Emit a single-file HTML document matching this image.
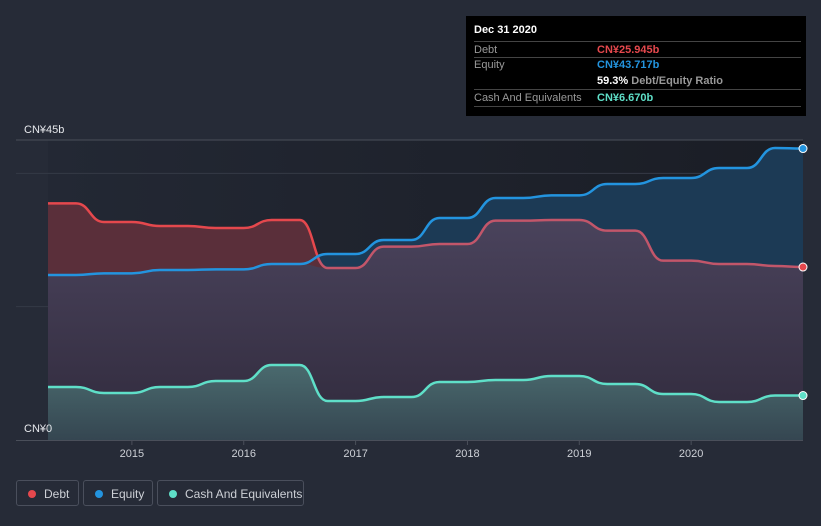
<!DOCTYPE html>
<html><head><meta charset="utf-8"><style>
body{margin:0;background:#262b37;width:821px;height:526px;overflow:hidden;font-family:"Liberation Sans",sans-serif;}
.tt{position:absolute;left:466px;top:16px;width:340px;height:100px;background:#000;color:#fff;font-size:11px;}
.tt .r{position:absolute;left:8px;width:327px;border-bottom:1px solid #444;height:16px;}
.tt .l{position:absolute;left:0;color:#999;top:2px}
.tt .v{position:absolute;left:123px;top:2px;font-weight:bold}
.leg{position:absolute;top:480px;height:26px;border:1px solid #4a4f5c;border-radius:3px;color:#cdd0d6;font-size:12px;line-height:26px;box-sizing:border-box}
.leg i{position:absolute;left:11px;top:9px;width:8px;height:8px;border-radius:50%}
.leg span{position:absolute;left:27px}
</style></head><body>
<svg width="821" height="526" style="position:absolute;left:0;top:0">
<defs>
<linearGradient id="bg" x1="0" x2="1"><stop offset="0" stop-color="#232834"/><stop offset="1" stop-color="#1a1d25"/></linearGradient>
<linearGradient id="pg" x1="0" y1="0" x2="0" y2="1"><stop offset="0" stop-color="#4a435c"/><stop offset="1" stop-color="#302a3c"/></linearGradient>
<linearGradient id="cg" x1="0" y1="0" x2="0" y2="1"><stop offset="0" stop-color="#4a6a6e"/><stop offset="1" stop-color="#354651"/></linearGradient>
<clipPath id="leftc"><rect x="0" y="0" width="318" height="526"/></clipPath>
<clipPath id="rightc"><rect x="318" y="0" width="600" height="526"/></clipPath>
</defs>
<rect x="48" y="140" width="755" height="300" fill="url(#bg)"/>
<g id="grid"></g>
<g id="series"></g>
<g id="axis"></g>
</svg>
<div class="tt">
<div style="position:absolute;left:8px;top:8px;font-weight:bold;font-size:11px">Dec 31 2020</div>
<div class="r" style="top:25px;border-top:1px solid #444;height:15px"><span class="l">Debt</span><span class="v" style="color:#e5484d">CN¥25.945b</span></div>
<div class="r" style="top:41px;height:32px"><span class="l">Equity</span><span class="v" style="color:#2394df">CN¥43.717b</span><span class="v" style="top:18px;color:#fff">59.3% <b style="color:#999">Debt/Equity Ratio</b></span></div>
<div class="r" style="top:74px"><span class="l">Cash And Equivalents</span><span class="v" style="color:#5fdfc8">CN¥6.670b</span></div>
</div>
<div class="leg" style="left:16px;width:63px"><i style="background:#e5484d"></i><span>Debt</span></div>
<div class="leg" style="left:83px;width:70px"><i style="background:#2394df"></i><span>Equity</span></div>
<div class="leg" style="left:157px;width:147px"><i style="background:#5fdfc8"></i><span>Cash And Equivalents</span></div>
<script>
const dates=[2014.25,2014.5,2014.75,2015,2015.25,2015.5,2015.75,2016,2016.25,2016.5,2016.75,2017,2017.25,2017.5,2017.75,2018,2018.25,2018.5,2018.75,2019,2019.25,2019.5,2019.75,2020,2020.25,2020.5,2020.75,2021];
const debt=[35.5,35.5,32.7,32.7,32.1,32.1,31.8,31.8,33,33,25.8,25.8,29,29,29.4,29.4,32.9,32.9,33,33,31.4,31.4,26.9,26.9,26.4,26.4,26.1,25.945];
const equity=[24.75,24.75,25,25,25.5,25.5,25.6,25.6,26.4,26.4,27.9,27.9,30,30,33.3,33.3,36.3,36.3,36.7,36.7,38.4,38.4,39.3,39.3,40.8,40.8,43.8,43.717];
const cash=[7.95,7.95,7.05,7.05,7.95,7.95,8.85,8.85,11.25,11.25,5.85,5.85,6.45,6.45,8.7,8.7,9,9,9.6,9.6,8.4,8.4,6.9,6.9,5.7,5.7,6.67,6.67];
const yearTicks=[2015,2016,2017,2018,2019,2020];
const gridVals=[45,40,20];
const NS='http://www.w3.org/2000/svg';
const X=d=>48+(d-2014.25)*(755/6.75);
const Y=v=>440-v*300/45;
function mk(t,a,p){const e=document.createElementNS(NS,t);for(const k in a)e.setAttribute(k,a[k]);p.appendChild(e);return e;}
function line(vals){let d='M'+X(dates[0])+','+Y(vals[0]);for(let i=1;i<vals.length;i++){const x0=X(dates[i-1]),x1=X(dates[i]),m=(x0+x1)/2;d+=` C${m},${Y(vals[i-1])} ${m},${Y(vals[i])} ${x1},${Y(vals[i])}`;}return d;}
function area(vals){return line(vals)+` L${X(dates[dates.length-1])},440 L${X(dates[0])},440 Z`;}
const g=document.getElementById('grid'),s=document.getElementById('series'),ax=document.getElementById('axis');
gridVals.forEach(v=>{const l=mk('line',{x1:16,x2:803,y1:Y(v),y2:Y(v),stroke:v==45?'#4a4f5a':'#353a46','stroke-width':1},g);

});
const minv=debt.map((v,i)=>Math.min(v,equity[i]));
let a=mk('path',{d:area(equity),fill:'#1c3a55'},s);

a=mk('path',{d:area(debt),fill:'#5a2f3a'},s);

a=mk('path',{d:area(minv),fill:'url(#pg)'},s);

a=mk('path',{d:area(cash),fill:'url(#cg)'},s);

let p=mk('path',{d:line(debt),fill:'none',stroke:'#e5484d','stroke-width':2.5,'clip-path':'url(#leftc)'},s);

p=mk('path',{d:line(debt),fill:'none',stroke:'#c2566a','stroke-width':2.5,'clip-path':'url(#rightc)'},s);

p=mk('path',{d:line(equity),fill:'none',stroke:'#2394df','stroke-width':2.5},s);

p=mk('path',{d:line(cash),fill:'none',stroke:'#5fdfc8','stroke-width':2.5},s);

[[debt,'#e5484d'],[equity,'#2394df'],[cash,'#5fdfc8']].forEach(([v,c])=>{const e=mk('circle',{cx:X(dates[dates.length-1]),cy:Y(v[v.length-1]),r:4,fill:c,stroke:'#fff','stroke-width':1},s);

});
const b=mk('line',{x1:16,x2:803,y1:440.5,y2:440.5,stroke:'#4a4f5a'},ax);

yearTicks.forEach(yr=>{const t=mk('line',{x1:X(yr),x2:X(yr),y1:440,y2:445,stroke:'#4a4f5a'},ax);

const tx=mk('text',{x:X(yr),y:457,'text-anchor':'middle',fill:'#cdd0d6','font-size':11,'font-family':'Liberation Sans, sans-serif'},ax);tx.textContent=yr;
});
[['CN¥45b',133],['CN¥0',432]].forEach(([t,y])=>{const tx=mk('text',{x:24,y:y,fill:'#e6e8ec','font-size':11,'font-family':'Liberation Sans, sans-serif'},ax);tx.textContent=t;
});
</script>
</body></html>
